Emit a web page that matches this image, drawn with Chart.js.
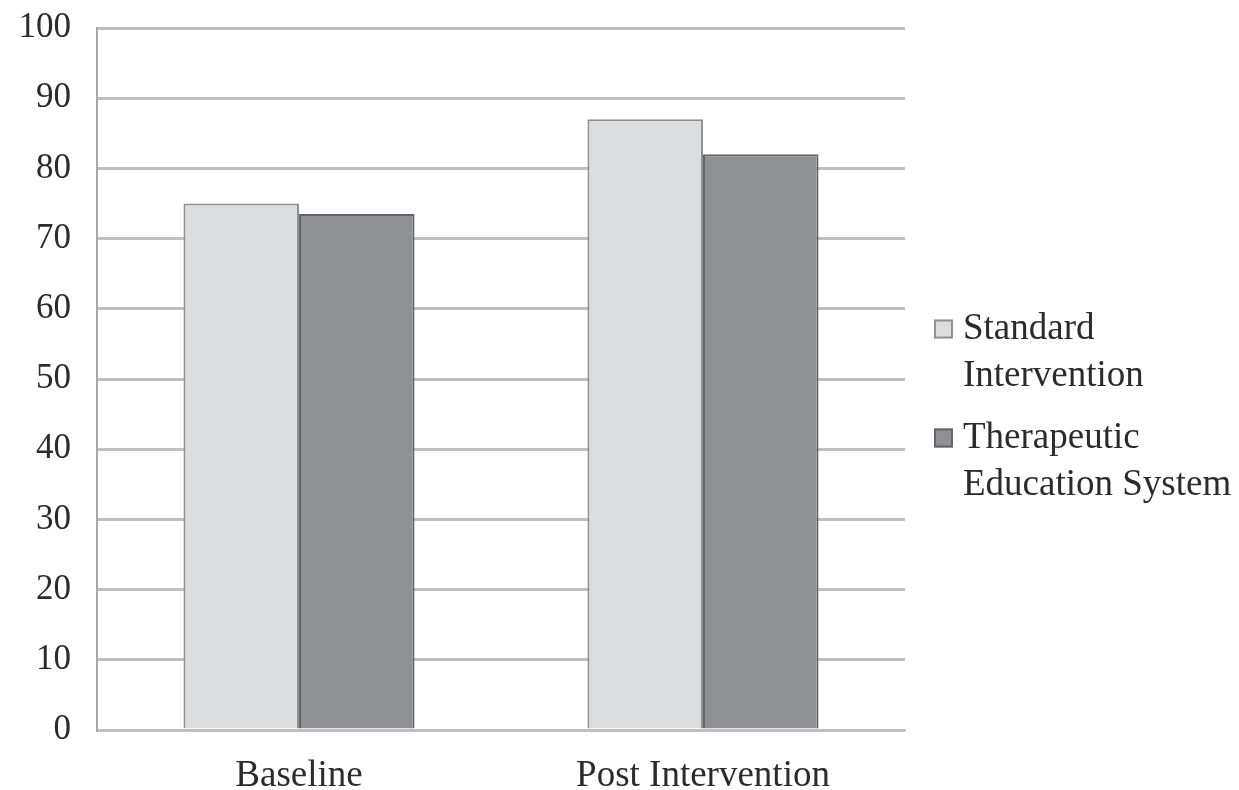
<!DOCTYPE html>
<html>
<head>
<meta charset="utf-8">
<script src="https://cdn.jsdelivr.net/npm/chart.js@4/dist/chart.umd.min.js"></script>
<style>
  html, body { margin: 0; padding: 0; background: #fff; }
  #wrap { width: 1239px; height: 790px; overflow: hidden; position: relative; }
  #c { display: block; }
</style>
</head>
<body>
<div id="wrap"><canvas id="c" width="1239" height="810"></canvas></div>
<script>
// Chart data
const categories = ['Baseline', 'Post Intervention'];
const standardIntervention = [75, 87];
const therapeuticEducation = [73.5, 82];
const yTicks = [0, 10, 20, 30, 40, 50, 60, 70, 80, 90, 100];
const seriesNames = [
  ['Standard', 'Intervention'],
  ['Therapeutic', 'Education System']
];

const FONT = "'Liberation Serif', 'Times New Roman', serif";
const TEXT = '#2b2b2b';
const GRID = '#bfbfc1';

// Legend drawn at the right of the plot, with wrapped two-line labels
const sideLegend = {
  id: 'sideLegend',
  afterDraw(chart) {
    const ctx = chart.ctx;
    const lineH = 47;
    let y = 329;
    ctx.save();
    ctx.font = '37px ' + FONT;
    ctx.textBaseline = 'middle';
    ctx.textAlign = 'left';
    chart.data.datasets.forEach((ds) => {
      const bx = 934, bs = 19;
      ctx.fillStyle = ds.backgroundColor;
      ctx.fillRect(bx, y - bs / 2, bs, bs);
      ctx.lineWidth = 2;
      ctx.strokeStyle = ds.borderColor;
      ctx.strokeRect(bx + 1, y - bs / 2 + 1, bs - 2, bs - 2);
      ctx.fillStyle = TEXT;
      const lines = Array.isArray(ds.label) ? ds.label : [ds.label];
      lines.forEach((ln, i) => ctx.fillText(ln, 963, y + i * lineH));
      y += lines.length * lineH + 15;
    });
    ctx.restore();
  }
};

new Chart(document.getElementById('c'), {
  type: 'bar',
  data: {
    labels: categories,
    datasets: [
      {
        label: seriesNames[0],
        data: standardIntervention,
        backgroundColor: '#dcdddf',
        borderColor: '#8f9093',
        borderWidth: 2,
        borderSkipped: 'bottom'
      },
      {
        label: seriesNames[1],
        data: therapeuticEducation,
        backgroundColor: '#909195',
        borderColor: '#646569',
        borderWidth: 2,
        borderSkipped: 'bottom'
      }
    ]
  },
  options: {
    responsive: false,
    animation: false,
    devicePixelRatio: 1,
    layout: { padding: { top: 0, right: 334, left: 0, bottom: 0 } },
    datasets: { bar: { categoryPercentage: 0.572, barPercentage: 1.0 } },
    plugins: {
      legend: { display: false },
      tooltip: { enabled: false }
    },
    scales: {
      x: {
        grid: { display: false, drawTicks: false },
        border: { display: true, color: GRID, width: 2 },
        ticks: { color: TEXT, font: { family: FONT, size: 37 }, padding: 24 },
        afterFit(scale) { scale.height = 80; }
      },
      y: {
        min: 0,
        max: 100,
        afterBuildTicks(scale) { scale.ticks = yTicks.map(v => ({ value: v })); },
        grid: { color: GRID, lineWidth: 3, drawTicks: false },
        border: { display: true, color: '#a8a8aa', width: 2 },
        ticks: { color: TEXT, font: { family: FONT, size: 35 }, padding: 26 },
        afterFit(scale) { scale.width = 97; scale.paddingTop = 28; }
      }
    }
  },
  plugins: [sideLegend]
});
</script>
</body>
</html>
